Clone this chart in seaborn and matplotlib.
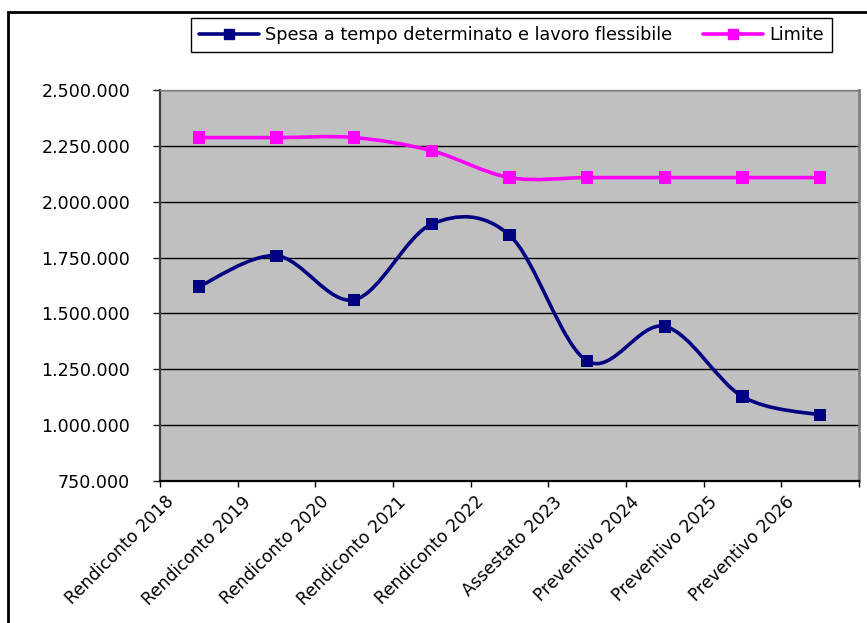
import numpy as np
import pandas as pd
import matplotlib
matplotlib.use("Agg")
import matplotlib.pyplot as plt
from matplotlib.path import Path
from matplotlib.patches import PathPatch, Rectangle
from matplotlib.lines import Line2D
from matplotlib.ticker import FuncFormatter, FixedLocator
import seaborn as sns

# --- dati ---
categorie = [
    "Rendiconto 2018", "Rendiconto 2019", "Rendiconto 2020", "Rendiconto 2021",
    "Rendiconto 2022", "Assestato 2023", "Preventivo 2024", "Preventivo 2025",
    "Preventivo 2026",
]
spesa = [1620000, 1758000, 1561000, 1900000, 1850000, 1287000, 1442000, 1128000, 1045000]
limite = [2287000, 2287000, 2287000, 2228000, 2108000, 2108000, 2108000, 2108000, 2108000]
y_ticks = [750000, 1000000, 1250000, 1500000, 1750000, 2000000, 2250000, 2500000]

nome_spesa = "Spesa a tempo determinato e lavoro flessibile"
nome_limite = "Limite"
colori = {nome_spesa: "#000080", nome_limite: "#FF00FF"}

pos = np.arange(len(categorie))
df = pd.concat([
    pd.DataFrame({"pos": pos, "valore": spesa, "serie": nome_spesa}),
    pd.DataFrame({"pos": pos, "valore": limite, "serie": nome_limite}),
], ignore_index=True)


def curva_liscia(x, y):
    """Bezier cubica stile Catmull-Rom che passa per tutti i punti."""
    pts = np.column_stack([x, y]).astype(float)
    n = len(pts)
    verts = [pts[0]]
    codes = [Path.MOVETO]
    for i in range(n - 1):
        p_prev = pts[i - 1] if i > 0 else pts[i]
        p_next2 = pts[i + 2] if i + 2 < n else pts[i + 1]
        c1 = pts[i] + (pts[i + 1] - p_prev) / 6.0
        c2 = pts[i + 1] - (p_next2 - pts[i]) / 6.0
        verts += [c1, c2, pts[i + 1]]
        codes += [Path.CURVE4] * 3
    return Path(verts, codes)


sns.set_style("white", rc={"axes.facecolor": "#C0C0C0"})
plt.rcParams["font.family"] = ["DejaVu Sans"]
plt.rcParams["text.color"] = "black"
plt.rcParams["xtick.color"] = "black"
plt.rcParams["ytick.color"] = "black"

W, H = 867, 623
fig = plt.figure(figsize=(W / 100, H / 100), dpi=100)
fig.patch.set_facecolor("white")
ax = fig.add_axes([160 / W, (H - 481) / H, 699 / W, (481 - 90) / H])
ax.set_facecolor("#C0C0C0")

# linee smussate
for nome, vals in [(nome_spesa, spesa), (nome_limite, limite)]:
    ax.add_patch(PathPatch(curva_liscia(pos, vals), facecolor="none",
                           edgecolor=colori[nome], lw=2.6,
                           capstyle="round", joinstyle="round", zorder=3))

# marcatori
sns.scatterplot(data=df, x="pos", y="valore", hue="serie", palette=colori,
                marker="s", s=78, linewidth=0, legend=False, ax=ax, zorder=4)

# asse y
ax.set_ylim(y_ticks[0], y_ticks[-1])
ax.yaxis.set_major_locator(FixedLocator(y_ticks))
ax.yaxis.set_major_formatter(FuncFormatter(lambda v, _: f"{v:,.0f}".replace(",", ".")))
ax.yaxis.grid(True, color="black", lw=1)
ax.set_axisbelow(True)
ax.tick_params(axis="y", which="major", direction="out", length=5, width=1,
               color="#202020", pad=16.5, labelsize=12.6, labelcolor="black", left=True)

# asse x: tacche ai bordi delle categorie, etichette ruotate
ax.set_xlim(-0.5, len(categorie) - 0.5)
ax.xaxis.set_minor_locator(FixedLocator(np.arange(-0.5, len(categorie))))
ax.xaxis.set_major_locator(FixedLocator(pos - 0.28))
ax.set_xticklabels(categorie, rotation=45, ha="right", va="top")
ax.tick_params(axis="x", which="major", length=0, pad=8.5, labelsize=12.3,
               labelcolor="black", bottom=True)
ax.tick_params(axis="x", which="minor", direction="out", length=4, width=1,
               color="black", bottom=True)
ax.set_xlabel("")
ax.set_ylabel("")

for lato, col, lw in [("left", "#404040", 1.6), ("bottom", "black", 1.6),
                      ("top", "#808080", 1.0), ("right", "#808080", 2.0)]:
    ax.spines[lato].set_visible(True)
    ax.spines[lato].set_color(col)
    ax.spines[lato].set_linewidth(lw)

# legenda
handles = [Line2D([], [], color=colori[n], lw=2.6, marker="s", markersize=7)
           for n in (nome_spesa, nome_limite)]
leg = fig.legend(handles, [nome_spesa, nome_limite], loc="upper left",
                 bbox_to_anchor=(191 / W, 1 - 18 / H), ncol=2, frameon=True,
                 fancybox=False, edgecolor="black", facecolor="white",
                 framealpha=1, fontsize=12.7, labelcolor="black",
                 handlelength=3.4, handletextpad=0.35, columnspacing=1.75,
                 borderpad=0.45, borderaxespad=0)
leg.get_frame().set_linewidth(1)

# cornice esterna
fig.add_artist(Rectangle((8 / W, -0.2), 1.5, (H - 12) / H + 0.2,
                         transform=fig.transFigure, fill=False,
                         edgecolor="black", lw=2, clip_on=False))

fig.savefig("out.png", dpi=100)
